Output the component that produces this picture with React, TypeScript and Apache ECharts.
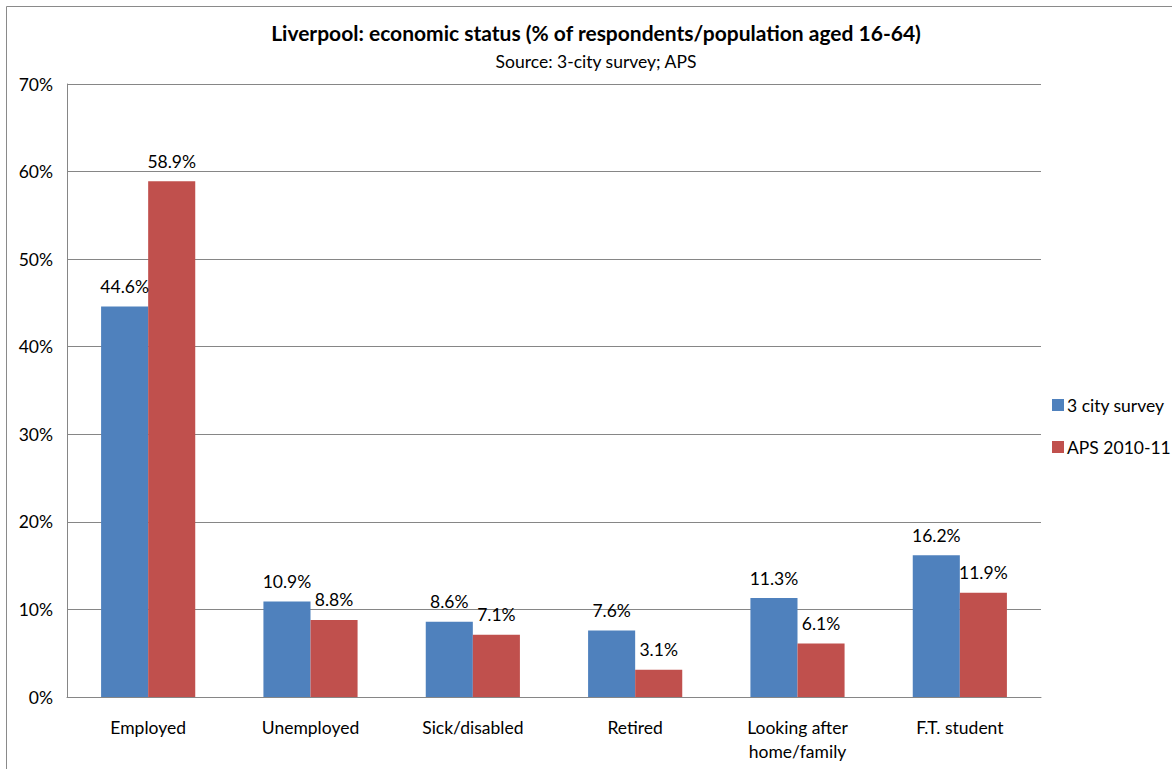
import React, { useEffect, useRef } from "react";
import * as echarts from "echarts";

const categories = ["Employed", "Unemployed", "Sick/disabled", "Retired", "Looking after\nhome/family", "F.T. student"];
const surveyValues = [44.6, 10.9, 8.6, 7.6, 11.3, 16.2];
const apsValues = [58.9, 8.8, 7.1, 3.1, 6.1, 11.9];
const seriesNames = ["3 city survey", "APS 2010-11"];
const titleText = "Liverpool: economic status (% of respondents/population aged 16-64)";
const subtitleText = "Source: 3-city survey; APS";

const FONT = "Lato, 'Open Sans', sans-serif";

export default function App() {
  const ref = useRef<HTMLDivElement>(null);
  useEffect(() => {
    if (!ref.current) return;
    const chart = echarts.init(ref.current, null, { renderer: "svg" });
    const label = {
      show: true,
      position: "top",
      distance: 11,
      fontSize: 17.5,
      fontFamily: FONT,
      color: "#000",
      formatter: (p: any) => Number(p.value).toFixed(1) + "%",
    };
    chart.setOption({
      animation: false,
      backgroundColor: "#fff",
      textStyle: { fontFamily: FONT },
      title: {
        text: titleText,
        subtext: subtitleText,
        left: 591,
        textAlign: "center",
        top: 17,
        itemGap: 9,
        textStyle: { fontSize: 21, fontWeight: "bold", color: "#000", fontFamily: FONT },
        subtextStyle: { fontSize: 17.5, color: "#000", fontFamily: FONT },
      },
      graphic: [
        {
          type: "rect",
          shape: { x: 6.5, y: 6.5, width: 1200, height: 800 },
          style: { fill: "none", stroke: "#8a8a8a", lineWidth: 1 },
          silent: true,
        },
      ],
      legend: {
        orient: "vertical",
        left: 1047,
        top: 391,
        itemWidth: 12,
        itemHeight: 12,
        itemGap: 24,
        icon: "rect",
        textStyle: { fontSize: 17.5, color: "#000", fontFamily: FONT, padding: [0, 0, 0, -2] },
        data: seriesNames,
      },
      grid: { left: 67, right: 131, top: 84, bottom: 72, containLabel: false },
      xAxis: {
        type: "category",
        data: categories,
        axisLine: { lineStyle: { color: "#868686", width: 1 } },
        axisTick: { show: false },
        axisLabel: { fontSize: 17.5, color: "#000", margin: 18, lineHeight: 24, fontFamily: FONT, interval: 0 },
      },
      yAxis: {
        type: "value",
        min: 0,
        max: 70,
        interval: 10,
        axisLine: { show: true, lineStyle: { color: "#868686", width: 1 } },
        axisTick: { show: false },
        splitLine: { lineStyle: { color: "#868686", width: 1 } },
        axisLabel: { fontSize: 17.5, color: "#000", margin: 14, formatter: "{value}%", fontFamily: FONT },
      },
      series: [
        {
          name: seriesNames[0],
          type: "bar",
          data: surveyValues,
          itemStyle: { color: "#4F81BD" },
          barGap: "0%",
          barCategoryGap: "42%",
          label,
        },
        {
          name: seriesNames[1],
          type: "bar",
          data: apsValues,
          itemStyle: { color: "#C0504D" },
          barGap: "0%",
          barCategoryGap: "42%",
          label,
        },
      ],
    });
    return () => chart.dispose();
  }, []);
  return (
    <div
      ref={ref}
      style={{ position: "fixed", left: 0, top: 0, width: 1172, height: 769, overflow: "hidden" }}
    />
  );
}
